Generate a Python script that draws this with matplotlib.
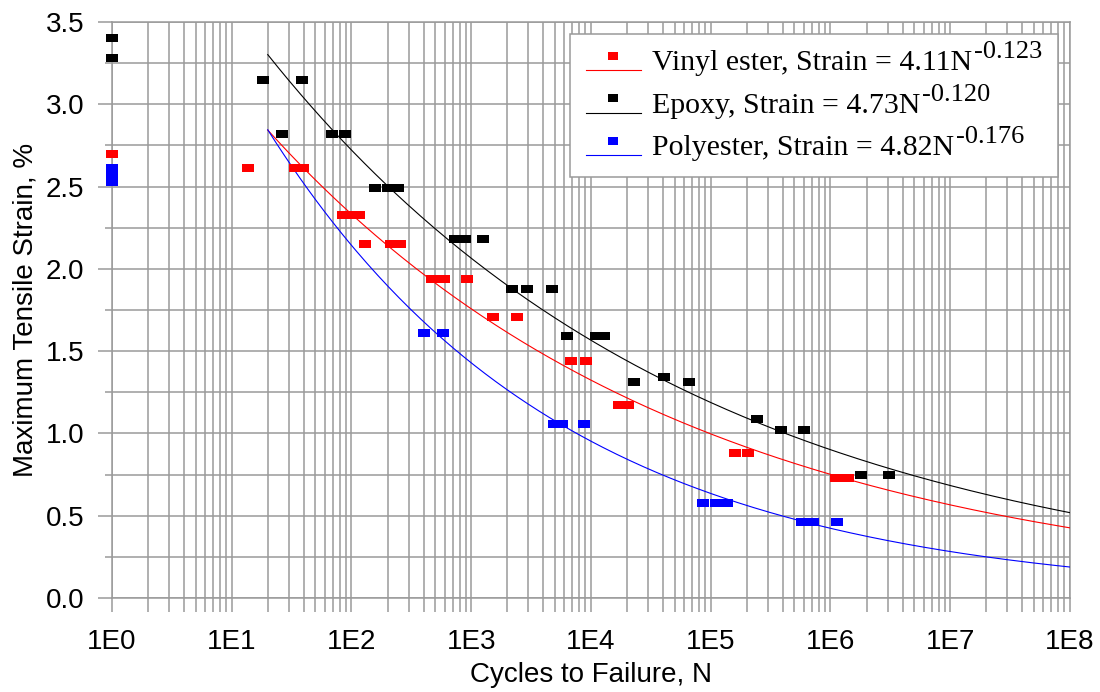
import numpy as np
import matplotlib
matplotlib.use("Agg")
import matplotlib.pyplot as plt
from matplotlib.lines import Line2D
from matplotlib.legend_handler import HandlerBase
from matplotlib.offsetbox import HPacker, DrawingArea
from matplotlib.text import Text
from matplotlib.textpath import TextPath
from matplotlib.font_manager import FontProperties
from matplotlib.ticker import FixedLocator, FuncFormatter, MultipleLocator

plt.rcParams["font.family"] = ["Liberation Sans", "DejaVu Sans"]

# Measured fatigue points (cycles, max tensile strain %)
vinyl_n = [1, 13.7, 34, 39, 85, 100, 115, 130, 214, 254, 470, 590, 920,
           1520, 2420, 6800, 9100, 17000, 20400, 159000, 204000, 1120000, 1410000]
vinyl_s = [2.70, 2.61, 2.61, 2.61, 2.33, 2.33, 2.33, 2.15, 2.15, 2.15, 1.94, 1.94, 1.94,
           1.71, 1.71, 1.44, 1.44, 1.17, 1.17, 0.88, 0.88, 0.73, 0.73]

epoxy_n = [1, 1, 18.2, 38.6, 26.3, 68.7, 88, 157, 202, 244, 731, 887, 1253,
           2190, 2920, 4720, 6300, 11000, 12800, 22900, 40600, 65600,
           244000, 386000, 600000, 1790000, 3100000]
epoxy_s = [3.40, 3.28, 3.15, 3.15, 2.82, 2.82, 2.82, 2.49, 2.49, 2.49, 2.18, 2.18, 2.18,
           1.88, 1.88, 1.88, 1.59, 1.59, 1.59, 1.31, 1.34, 1.31,
           1.09, 1.02, 1.02, 0.75, 0.75]

poly_n = [1, 1, 1, 403, 581, 4900, 5700, 8700, 86000, 110000, 136000,
          577000, 712000, 1130000]
poly_s = [2.615, 2.57, 2.53, 1.61, 1.61, 1.06, 1.06, 1.06, 0.58, 0.58, 0.58,
          0.46, 0.46, 0.46]

# Power-law fits: Strain = a * N^b
fit_a = [4.11, 4.73, 4.82]
fit_b = [-0.123, -0.120, -0.176]
fit_names = ["Vinyl ester, Strain = 4.11N",
             "Epoxy, Strain = 4.73N",
             "Polyester, Strain = 4.82N"]
fit_exps = ["-0.123", "-0.120", "-0.176"]
colors = ["#ff0000", "#000000", "#0000ff"]

rect = [(-1, -0.68), (1, -0.68), (1, 0.68), (-1, 0.68), (-1, -0.68)]


class OffsetHandler(HandlerBase):
    # marker drawn above the line, like the original spreadsheet legend
    def create_artists(self, legend, orig_handle, xdescent, ydescent,
                       width, height, fontsize, trans):
        c = orig_handle.get_color()
        y0 = height / 2 - ydescent
        line = Line2D([-xdescent, width - xdescent], [y0 - height * 0.5] * 2,
                      color=c, lw=0.8, transform=trans)
        mk = Line2D([width / 2 - xdescent], [y0 + height * 0.2], color=c,
                    linestyle="none", marker=rect, markersize=7.5,
                    markeredgewidth=0, transform=trans)
        return [line, mk]


fig = plt.figure(figsize=(11, 6.92), dpi=100)
ax = fig.add_axes([0.1018, 0.1358, 0.8709, 0.8324])

n_fit = np.logspace(np.log10(20), 8, 300)
handles = []
for (nn, ss), a, b, c, lab in zip([(vinyl_n, vinyl_s), (epoxy_n, epoxy_s), (poly_n, poly_s)],
                                  fit_a, fit_b, colors, fit_names):
    ax.plot(nn, ss, linestyle="none", marker=rect, markersize=8.2,
            markerfacecolor=c, markeredgewidth=0, zorder=4, clip_on=False)
    ax.plot(n_fit, a * n_fit ** b, color=c, lw=0.8, zorder=3)
    h, = ax.plot([], [], color=c, lw=0.8, label=lab)
    handles.append(h)

ax.set_xscale("log")
ax.set_xlim(1, 1e8)
ax.set_ylim(0, 3.5)

ax.xaxis.set_major_locator(FixedLocator([10.0 ** k for k in range(9)]))
ax.xaxis.set_minor_locator(FixedLocator([m * 10.0 ** k for k in range(8) for m in range(2, 10)]))
ax.xaxis.set_major_formatter(FuncFormatter(lambda v, p: "1E%d" % round(np.log10(v))))
ax.xaxis.set_minor_formatter(FuncFormatter(lambda v, p: ""))
ax.yaxis.set_major_locator(MultipleLocator(0.5))
ax.yaxis.set_minor_locator(MultipleLocator(0.25))
ax.yaxis.set_major_formatter(FuncFormatter(lambda v, p: "%.1f" % v))

gc = "#9a9a9a"
ax.grid(True, which="both", color=gc, lw=1.1)
ax.tick_params(which="major", direction="out", length=10, color=gc, width=1.1,
               labelsize=20)
ax.tick_params(axis="x", which="major", pad=12)
ax.tick_params(axis="y", which="major", pad=10)
ax.tick_params(which="minor", direction="out", length=5, color=gc, width=1.1)
ax.tick_params(axis="x", which="minor", length=10)
for sp in ax.spines.values():
    sp.set_color(gc)
    sp.set_linewidth(1.1)

ax.set_xlabel("Cycles to Failure, N", fontsize=20, labelpad=5)
ax.set_ylabel("Maximum Tensile Strain, %", fontsize=20, labelpad=5)

leg_size = 21.5
exp_size = 19
leg = ax.legend(handles=handles, loc="upper right",
                handler_map={h: OffsetHandler() for h in handles},
                prop={"family": "Liberation Serif", "size": leg_size}, frameon=True,
                fancybox=False, edgecolor=gc, framealpha=1, handlelength=1.85,
                handletextpad=0.38, borderaxespad=0.4, labelspacing=0.52, borderpad=0.52)
leg.get_frame().set_linewidth(1.1)

# exponents: nearly full size and raised, packed right after each "N"
exp_prop = FontProperties(family="Liberation Serif", size=exp_size)
for col in leg._legend_handle_box.get_children():
    for row in col.get_children():
        tbox = row.get_children()[1]
        ex = fit_exps[fit_names.index(tbox.get_text())]
        ew = TextPath((0, 0), ex, prop=exp_prop).get_extents().x1
        da = DrawingArea(ew + 2, 10, 0, 0, clip=False)
        da.add_artist(Text(1, 8.6, ex, fontproperties=exp_prop, va="baseline", ha="left"))
        pack = HPacker(pad=0, sep=0, children=[tbox, da], align="baseline")
        pack.set_figure(fig)
        row._children[1] = pack

plt.savefig("out.png", dpi=100)
